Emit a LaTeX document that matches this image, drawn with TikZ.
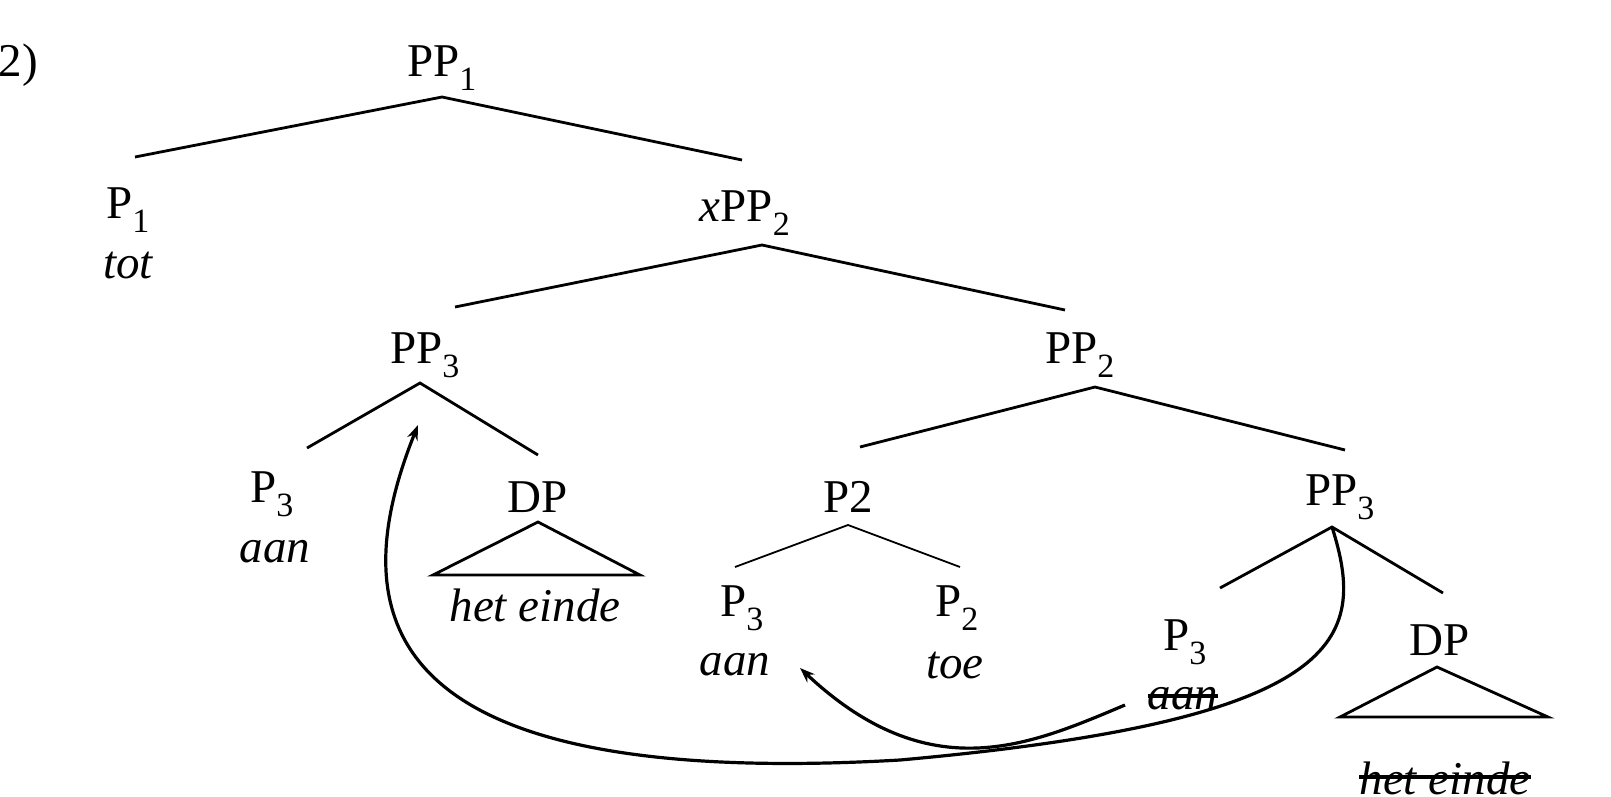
\documentclass[tikz,border=0pt]{standalone}
\usepackage{fontspec}
\setmainfont{Liberation Serif}
\usetikzlibrary{arrows.meta}
\newcommand{\sbs}[1]{\textsubscript{\fontsize{34}{36}\selectfont #1}}
\begin{document}
\begin{tikzpicture}[x=1pt,y=-1pt,
  lab/.style={inner sep=0pt,font=\fontsize{47}{52}\selectfont},
  br/.style={line width=2.8pt},
  thin/.style={line width=1.8pt},
  strike/.style={line width=3.4pt},
  mv/.style={line width=3.2pt,-{Stealth[length=15pt,width=11pt]}}]
\useasboundingbox (0,0) rectangle (1611,796);
\node[lab,anchor=east] (ex) at (38,65) {(2)};
% labels
\node[lab] (pp1) at (442,68) {PP\sbs{1}};
\node[lab] (p1) at (128,210) {P\sbs{1}};
\node[lab] (tot) at (128,265) {\itshape tot};
\node[lab] (xpp2) at (745,213) {\itshape x\upshape PP\sbs{2}};
\node[lab] (pp3a) at (425,355) {PP\sbs{3}};
\node[lab] (pp2) at (1080,355) {PP\sbs{2}};
\node[lab] (p3a) at (272,494) {P\sbs{3}};
\node[lab] (aana) at (275,552) {\itshape aan};
\node[lab] (dpa) at (538,497) {DP};
\node[lab] (hea) at (535,605) {\itshape het einde};
\node[lab] (p2x) at (848,497) {P2};
\node[lab] (pp3b) at (1340,497) {PP\sbs{3}};
\node[lab] (p3b) at (742,608) {P\sbs{3}};
\node[lab] (aanb) at (735,665) {\itshape aan};
\node[lab] (p2b) at (957,608) {P\sbs{2}};
\node[lab] (toe) at (955,665) {\itshape toe};
\node[lab] (p3c) at (1185,642) {P\sbs{3}};
\node[lab] (aanc) at (1183,699) {\itshape aan};
\node[lab] (dpb) at (1440,640) {DP};
\node[lab] (heb) at (1445,778) {\itshape het einde};
% strike-outs
\draw[strike] ([yshift=3pt]aanc.west) -- ([yshift=3pt]aanc.east);
\draw[strike] ([yshift=1pt]heb.west) -- ([yshift=1pt]heb.east);
% branch points
\coordinate (a1) at (442,97);
\coordinate (a2) at (762,245);
\coordinate (a3) at (420,383);
\coordinate (a4) at (1095,387);
\coordinate (a5) at (848,525);
\coordinate (a6) at (1332,527);
% branches
\draw[br] (135,157) -- (a1) -- (742,160);
\draw[br] (455,307) -- (a2) -- (1065,310);
\draw[br] (307,448) -- (a3) -- (538,455);
\draw[br] (860,447) -- (a4) -- (1345,450);
\draw[thin] (735,567) -- (a5) -- (960,567);
\draw[br] (1220,588) -- (a6) -- (1443,593);
% triangles
\draw[br] (538,522) -- (433,575) -- (640,575) -- cycle;
\draw[br] (1437,667) -- (1340,717) -- (1548,717) -- cycle;
% movement arrows
\draw[mv] (a6) .. controls (1368,640) and (1345,720) .. (900,760)
  .. controls (380,790) and (340,620) .. (418,425);
\coordinate (m2) at (1125,705);
\draw[mv] (m2) .. controls (1030,745) and (930,790) .. (800,668);
\end{tikzpicture}
\end{document}
